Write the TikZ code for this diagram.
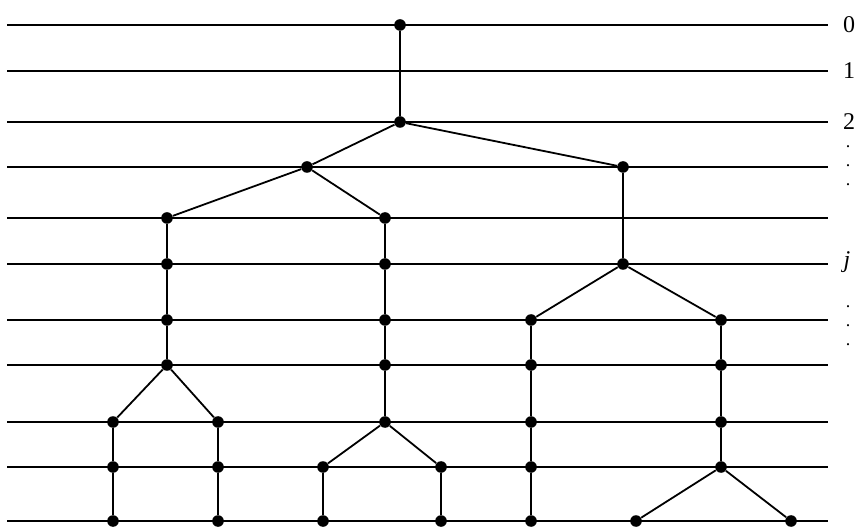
\documentclass[tikz,border=0pt]{standalone}
\usepackage{fontspec}
\setmainfont{Liberation Serif}
\usetikzlibrary{positioning}
\begin{document}
\begin{tikzpicture}[x=0.5pt,y=-0.5pt,
  vertex/.style={circle,fill=black,inner sep=0pt,minimum size=5.8pt},
  level/.style={line width=0.75pt},
  edge/.style={line width=0.9pt},
  tag/.style={font=\fontsize{12pt}{14pt}\selectfont,inner sep=0pt},
  dots/.style={font=\fontsize{9pt}{9.5pt}\selectfont,inner sep=0pt,align=center}]
  \useasboundingbox (0,0) rectangle (855,528);
  %Levels
  \foreach \n/\y in {0/25,1/71,2/122,3/167,4/218,5/264,6/320,7/365,8/422,9/467,10/521}
  {
    \coordinate (l\n) at (7,\y);
    \coordinate (r\n) at (828,\y);
    \draw[level] (l\n) -- (r\n);
  }
  %Labels
  \node[tag] (t0) at (849,25) {0};
  \node[tag] (t1) at (849,71) {1};
  \node[tag] (t2) at (849,122) {2};
  \node[tag] (tj) at (847,262) {\textit{j}};
  \node[dots] (da) at (848,166) {.\\.\\.};
  \node[dots] (db) at (848,326) {.\\.\\.};
  %Nodes
  \node[vertex] (a) at (400,25) {};
  \node[vertex] (b) at (400,122) {};
  \node[vertex] (c) at (307,167) {};
  \node[vertex] (d) at (623,167) {};
  \node[vertex] (e4) at (167,218) {};
  \node[vertex] (e5) at (167,264) {};
  \node[vertex] (e6) at (167,320) {};
  \node[vertex] (e7) at (167,365) {};
  \node[vertex] (f4) at (385,218) {};
  \node[vertex] (f5) at (385,264) {};
  \node[vertex] (f6) at (385,320) {};
  \node[vertex] (f7) at (385,365) {};
  \node[vertex] (f8) at (385,422) {};
  \node[vertex] (g) at (623,264) {};
  \node[vertex] (h6) at (531,320) {};
  \node[vertex] (h7) at (531,365) {};
  \node[vertex] (h8) at (531,422) {};
  \node[vertex] (h9) at (531,467) {};
  \node[vertex] (h10) at (531,521) {};
  \node[vertex] (i6) at (721,320) {};
  \node[vertex] (i7) at (721,365) {};
  \node[vertex] (i8) at (721,422) {};
  \node[vertex] (i9) at (721,467) {};
  \node[vertex] (k8) at (113,422) {};
  \node[vertex] (k9) at (113,467) {};
  \node[vertex] (k10) at (113,521) {};
  \node[vertex] (m8) at (218,422) {};
  \node[vertex] (m9) at (218,467) {};
  \node[vertex] (m10) at (218,521) {};
  \node[vertex] (n9) at (323,467) {};
  \node[vertex] (n10) at (323,521) {};
  \node[vertex] (p9) at (441,467) {};
  \node[vertex] (p10) at (441,521) {};
  \node[vertex] (q) at (636,521) {};
  \node[vertex] (s) at (791,521) {};
  %Edges
  \draw[edge] (a) -- (b);
  \draw[edge] (c) -- (b) -- (d);
  \draw[edge] (e4) -- (c) -- (f4);
  \draw[edge] (e4) -- (e5) -- (e6) -- (e7);
  \draw[edge] (k8) -- (e7) -- (m8);
  \draw[edge] (k8) -- (k9) -- (k10);
  \draw[edge] (m8) -- (m9) -- (m10);
  \draw[edge] (f4) -- (f5) -- (f6) -- (f7) -- (f8);
  \draw[edge] (n9) -- (f8) -- (p9);
  \draw[edge] (n9) -- (n10);
  \draw[edge] (p9) -- (p10);
  \draw[edge] (d) -- (g);
  \draw[edge] (h6) -- (g) -- (i6);
  \draw[edge] (h6) -- (h7) -- (h8) -- (h9) -- (h10);
  \draw[edge] (i6) -- (i7) -- (i8) -- (i9);
  \draw[edge] (q) -- (i9) -- (s);
\end{tikzpicture}
\end{document}
